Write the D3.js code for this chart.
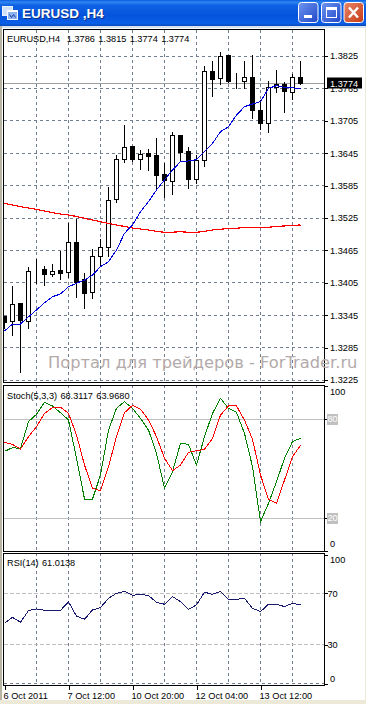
<!DOCTYPE html>
<html><head><meta charset="utf-8">
<script src="https://cdn.jsdelivr.net/npm/d3@7/dist/d3.min.js"></script>
<style>
html,body{margin:0;padding:0;background:#fff;overflow:hidden}
svg{display:block}
text{font-family:"Liberation Sans",sans-serif;font-size:9.2px;fill:#000}
</style></head><body>
<script>
const barCount = 38;
const opens  = [1.3342,1.3333,1.3367,1.3333,1.3426,1.3429,1.3420,1.3427,1.3424,1.3480,1.3411,1.3387,1.3454,1.3471,1.3560,1.3633,1.3658,1.3633,1.3645,1.3640,1.3605,1.3592,1.3677,1.3649,1.3597,1.3631,1.3797,1.3783,1.3826,1.3778,1.3777,1.3786,1.3725,1.3700,1.3767,1.3773,1.3758,1.3786];
const highs  = [1.3342,1.3399,1.3367,1.3434,1.3450,1.3436,1.3439,1.3464,1.3516,1.3524,1.3423,1.3467,1.3486,1.3583,1.3642,1.3697,1.3658,1.3651,1.3653,1.3673,1.3627,1.3684,1.3679,1.3657,1.3642,1.3806,1.3816,1.3832,1.3827,1.3793,1.3816,1.3827,1.3744,1.3779,1.3799,1.3777,1.3792,1.3815];
const lows   = [1.3321,1.3308,1.3240,1.3321,1.3405,1.3401,1.3418,1.3412,1.3415,1.3379,1.3359,1.3376,1.3436,1.3455,1.3555,1.3629,1.3631,1.3616,1.3614,1.3576,1.3564,1.3569,1.3632,1.3581,1.3590,1.3621,1.3751,1.3774,1.3777,1.3766,1.3766,1.3711,1.3689,1.3685,1.3759,1.3722,1.3746,1.3774];
const closes = [1.3332,1.3365,1.3335,1.3426,1.3426,1.3420,1.3426,1.3422,1.3480,1.3406,1.3385,1.3454,1.3471,1.3558,1.3634,1.3656,1.3633,1.3643,1.3639,1.3603,1.3594,1.3677,1.3647,1.3597,1.3632,1.3797,1.3782,1.3824,1.3777,1.3778,1.3786,1.3724,1.3700,1.3767,1.3773,1.3759,1.3786,1.3774];
const maFast = [1.33157,1.33287,1.33287,1.33422,1.33546,1.33681,1.33793,1.33843,1.33978,1.34041,1.34102,1.34194,1.34348,1.34441,1.34657,1.34967,1.3512,1.35367,1.35552,1.35769,1.35954,1.36139,1.36293,1.36306,1.3633,1.36478,1.36633,1.36848,1.36941,1.37157,1.37311,1.37361,1.37404,1.37652,1.377,1.3767,1.37663,1.37639];
const maSlow = [1.35519,1.35491,1.35459,1.35435,1.35411,1.3538,1.35349,1.35324,1.35306,1.35278,1.35244,1.35213,1.35181,1.35148,1.3512,1.35093,1.35065,1.35046,1.35028,1.35004,1.34985,1.34987,1.34996,1.34985,1.34985,1.35004,1.35028,1.35041,1.35059,1.35059,1.35078,1.35078,1.35078,1.35078,1.35096,1.35102,1.35115,1.3512];
const stochMain = [60.4,62.6,62.2,78.4,82.8,90.1,87.9,83.8,79.4,56.2,31.5,31.5,46.1,73.3,86.5,90.5,86.5,80.4,73.3,59.2,38,48.1,65.3,64.6,52.1,69.3,83.4,92.5,86.5,84,71.3,51.1,17.8,28.9,42,56.2,66.3,68.31];
const stochSignal = [65.9,64.6,61.8,69.3,75.4,83.4,86.9,87.1,83.4,70.3,52.1,38,36.4,51.1,69.3,83.8,88.3,85.9,79.4,69.3,56.2,48.7,52.1,59.8,60.8,61.6,68.3,82.4,87.9,87.9,79.4,67.7,46.1,31.3,28.9,43,57.2,63.97];
const rsi = [46.8,51.4,47.5,56.6,57.9,56.8,56.8,56.8,63.3,52.4,49.9,57.1,58.9,66.1,70,71.5,68.4,69.2,68.2,63,61.5,67.4,63.5,57.6,61,70.8,69.2,71.5,65.3,65.3,66.1,58.4,55.8,61.5,61.5,59.7,62.2,61.01];
const priceTicks = [1.3825,1.3765,1.3705,1.3645,1.3585,1.3525,1.3465,1.3405,1.3345,1.3285,1.3225];
const stochTicks = [100,80,20,0];
const rsiTicks = [100,70,30,0];
const gridBars = [4,8,12,16,20,24,28,32,36];
const timeTicks = [0,8,16,24,32];
const timeLabels = ["6 Oct 2011","7 Oct 12:00","10 Oct 20:00","12 Oct 04:00","13 Oct 12:00"];
const lastPrice = 1.3774;
const headerMain = "EURUSD,H4  1.3786 1.3815 1.3774 1.3774";
const headerStoch = "Stoch(5,3,3) 68.3117 63.9680";
const headerRsi = "RSI(14) 61.0138";
const watermark = "Портал для трейдеров - ForTrader.ru";
const titleText = "EURUSD ,H4";

const W=366,H=704,L=3.5,R=324.5;
const svg=d3.select("body").append("svg").attr("width",W).attr("height",H);
const x=d3.scaleLinear().domain([0,barCount-1]).range([4.5,300.5]);
const yP=d3.scaleLinear().domain([1.3225,1.3825]).range([380,56]);
const yS=d3.scaleLinear().domain([0,100]).range([551,386]);
const yR=d3.scaleLinear().domain([0,100]).range([683.75,554.5]);
const snap=v=>Math.round(v-0.5)+0.5;
const GRID="#708090";
const FONT='"Liberation Sans",sans-serif';
const FS="9.2px";

// window chrome
const defs=svg.append("defs");
const g0=defs.append("linearGradient").attr("id","tb").attr("x1",0).attr("x2",0).attr("y1",0).attr("y2",1);
[[0,"#0a5ce0"],[.08,"#2f86f2"],[.2,"#0f62e4"],[.6,"#0553dc"],[.9,"#0a5fe8"],[1,"#0a49b8"]].forEach(s=>g0.append("stop").attr("offset",s[0]).attr("stop-color",s[1]));
const g1=defs.append("linearGradient").attr("id","bb").attr("x1",0).attr("x2",1).attr("y1",0).attr("y2",1);
g1.append("stop").attr("offset",0).attr("stop-color","#6f96f0");g1.append("stop").attr("offset",1).attr("stop-color","#1f46c8");
const g2=defs.append("linearGradient").attr("id","bc").attr("x1",0).attr("x2",1).attr("y1",0).attr("y2",1);
g2.append("stop").attr("offset",0).attr("stop-color","#e9866a");g2.append("stop").attr("offset",1).attr("stop-color","#c53a14");
defs.append("clipPath").attr("id","clipM").append("rect").attr("x",L).attr("y",30).attr("width",R-L).attr("height",352);

svg.append("rect").attr("width",W).attr("height",H).attr("fill","#fff");
svg.append("rect").attr("x",0).attr("y",0).attr("width",W).attr("height",26).attr("fill","url(#tb)");
svg.append("rect").attr("x",0).attr("y",26).attr("width",W).attr("height",2).attr("fill","#d8e2ee");
svg.append("rect").attr("x",0).attr("y",26).attr("width",2).attr("height",H-26).attr("fill","#b8b4a4");
svg.append("rect").attr("x",0).attr("y",700).attr("width",W).attr("height",4).attr("fill","#ece9d8");
svg.append("rect").attr("x",W-1).attr("y",28).attr("width",1).attr("height",H-28).attr("fill","#ece9d8");

// icon
const ic=svg.append("g");
ic.append("rect").attr("x",2.5).attr("y",6.5).attr("width",10).attr("height",9).attr("fill","#cfe0f8").attr("stroke","#e8f0fc");
ic.append("rect").attr("x",7.5).attr("y",10.5).attr("width",10).attr("height",9).attr("fill","#8fb4ea").attr("stroke","#f4f8ff");
ic.append("rect").attr("x",7).attr("y",10).attr("width",11).attr("height",2).attr("fill","#fff");
ic.append("path").attr("d","M9.5 14.5l2 3 2-3 2 3").attr("fill","none").attr("stroke","#1a3fa8");
svg.append("text").attr("x",22).attr("y",18).text(titleText).style("font-size","13.5px").style("font-weight","bold").style("fill","#0a2f8a").attr("transform","translate(1,1)");
svg.append("text").attr("x",22).attr("y",18).text(titleText).style("font-size","13.5px").style("font-weight","bold").style("fill","#fff");

// buttons
[[298.5,"url(#bb)"],[321.5,"url(#bb)"],[344,"url(#bc)"]].forEach(b=>{
  svg.append("rect").attr("x",b[0]).attr("y",2.5).attr("width",19.5).attr("height",20).attr("rx",3).attr("fill",b[1]).attr("stroke","#fff");
});
svg.append("rect").attr("x",304).attr("y",15).attr("width",8).attr("height",3).attr("fill","#fff");
svg.append("rect").attr("x",326.5).attr("y",7.5).attr("width",10).attr("height",10).attr("fill","none").attr("stroke","#fff");
svg.append("rect").attr("x",326).attr("y",7).attr("width",11).attr("height",3).attr("fill","#fff");
svg.append("path").attr("d","M349 7.5l9 10M358 7.5l-9 10").attr("stroke","#fff").attr("stroke-width",2.4);

// grid: vertical
const grid=svg.append("g").attr("shape-rendering","crispEdges");
[[30,382],[385,551],[553,685]].forEach(p=>{
  grid.selectAll(null).data(gridBars).join("line")
    .attr("x1",d=>x(d)).attr("x2",d=>x(d)).attr("y1",p[0]).attr("y2",p[1])
    .attr("stroke",GRID).attr("stroke-dasharray","3,3");
});
// grid: horizontal
grid.selectAll(null).data(priceTicks).join("line")
  .attr("x1",L).attr("x2",R).attr("y1",d=>snap(yP(d))).attr("y2",d=>snap(yP(d)))
  .attr("stroke",GRID).attr("stroke-dasharray","3,3");
grid.append("line").attr("x1",L).attr("x2",R).attr("y1",snap(yS(0))).attr("y2",snap(yS(0))).attr("stroke",GRID).attr("stroke-dasharray","3,3");
grid.append("line").attr("x1",L).attr("x2",R).attr("y1",snap(yR(0))).attr("y2",snap(yR(0))).attr("stroke",GRID).attr("stroke-dasharray","3,3");
// levels
[80,20].forEach(v=>grid.append("line").attr("x1",L).attr("x2",R).attr("y1",snap(yS(v))).attr("y2",snap(yS(v))).attr("stroke","#c0c0c0"));
[70,30].forEach(v=>grid.append("line").attr("x1",L).attr("x2",R).attr("y1",snap(yR(v))).attr("y2",snap(yR(v))).attr("stroke","#c0c0c0").attr("stroke-dasharray","4,2"));
// bid line
grid.append("line").attr("x1",L).attr("x2",R).attr("y1",snap(yP(lastPrice))).attr("y2",snap(yP(lastPrice))).attr("stroke","#a0a0a0");

// candles
const cg=svg.append("g").attr("clip-path","url(#clipM)").attr("shape-rendering","crispEdges");
const idx=d3.range(barCount);
cg.selectAll(".w").data(idx).join("line").attr("class","w")
  .attr("x1",i=>x(i)).attr("x2",i=>x(i)).attr("y1",i=>Math.round(yP(highs[i]))).attr("y2",i=>Math.round(yP(lows[i]))+1)
  .attr("stroke","#000");
cg.selectAll(".b").data(idx).join("rect").attr("class","b")
  .attr("x",i=>x(i)-2).attr("width",4)
  .attr("y",i=>snap(yP(Math.max(opens[i],closes[i]))))
  .attr("height",i=>Math.max(0,snap(yP(Math.min(opens[i],closes[i])))-snap(yP(Math.max(opens[i],closes[i])))))
  .attr("fill",i=>closes[i]>=opens[i]?"#fff":"#000").attr("stroke","#000");

// lines (aliased, as in the terminal)
const line=(sc)=>d3.line().x((d,i)=>x(i)).y(d=>sc(d));
const overlay=svg.append("g").attr("fill","none").attr("shape-rendering","crispEdges");
overlay.append("path").attr("d",line(yP)(maSlow)).attr("stroke","#f00").attr("stroke-width",1.2);
overlay.append("path").attr("d",line(yP)(maFast)).attr("stroke","#0000d8").attr("stroke-width",1);
overlay.append("path").attr("d",line(yS)(stochMain)).attr("stroke","#008000").attr("stroke-width",1);
overlay.append("path").attr("d",line(yS)(stochSignal)).attr("stroke","#f00").attr("stroke-width",1);
overlay.append("path").attr("d",line(yR)(rsi)).attr("stroke","#191970").attr("stroke-width",1);

// frames
const fr=svg.append("g").attr("fill","none").attr("stroke","#000").attr("shape-rendering","crispEdges");
[[29.5,382.5],[385.5,551.5],[553.5,685.5]].forEach(p=>{
  fr.append("rect").attr("x",L).attr("y",p[0]).attr("width",R-L).attr("height",p[1]-p[0]);
});

// axes
function axis(scale,ticks,fmt){
  return d3.axisRight(scale).tickValues(ticks).tickFormat(fmt).tickSize(3).tickPadding(2.5);
}
function styleAxis(g){
  g.select(".domain").remove();
  g.selectAll("line").attr("stroke","#000").attr("shape-rendering","crispEdges");
  g.selectAll("text").style("font-size",FS).style("font-family",FONT);
}
const aP=svg.append("g").attr("transform",`translate(${R},0)`).call(axis(yP,priceTicks,d3.format(".4f"))).call(styleAxis);
const aS=svg.append("g").attr("transform",`translate(${R},0)`).call(axis(yS,stochTicks,d3.format("d"))).call(styleAxis);
const aR=svg.append("g").attr("transform",`translate(${R},0)`).call(axis(yR,rsiTicks,d3.format("d"))).call(styleAxis);
// MT4 pulls the end labels inside the panel and the level labels to the left
aS.selectAll("text").attr("transform",d=>d===100?"translate(0,6)":d===0?"translate(0,-7)":"translate(-2.5,0)");
aR.selectAll("text").attr("transform",d=>d===100?"translate(0,5.5)":d===0?"translate(0,-5)":"translate(-2.5,0)");
// silver level labels
aS.selectAll(".tick").filter(d=>d===80||d===20).each(function(){
  const t=d3.select(this);
  t.insert("rect","text").attr("x",2.5).attr("y",-5.5).attr("width",11).attr("height",11).attr("fill","#c0c0c0");
  t.select("text").style("fill","#fff");
});
// bid label
const yB=snap(yP(lastPrice));
svg.append("rect").attr("x",327).attr("y",yB-6).attr("width",35).attr("height",11).attr("fill","#000");
svg.append("text").attr("x",330).attr("y",yB+3.5).text(d3.format(".4f")(lastPrice)).style("fill","#fff");

// time axis
const aT=svg.append("g").attr("transform","translate(0,685.5)")
  .call(d3.axisBottom(x).tickValues(timeTicks).tickFormat((d,i)=>timeLabels[i]).tickSize(4).tickPadding(3));
aT.select(".domain").remove();
aT.selectAll("line").attr("stroke","#000").attr("shape-rendering","crispEdges");
aT.selectAll("text").attr("text-anchor","start").attr("dx",-1.5).style("font-size",FS).style("font-family",FONT);

// headers
[[headerMain,42],[headerStoch,399],[headerRsi,566]].forEach(h=>{
  svg.append("text").attr("x",7).attr("y",h[1]).text(h[0]).style("white-space","pre").style("word-spacing","0.8px");
});
// watermark
svg.append("text").attr("x",48).attr("y",368).text(watermark)
  .style("font-family",'"DejaVu Sans",sans-serif').style("font-size","16.3px").style("fill","#b3aaaa");
</script>
</body></html>
